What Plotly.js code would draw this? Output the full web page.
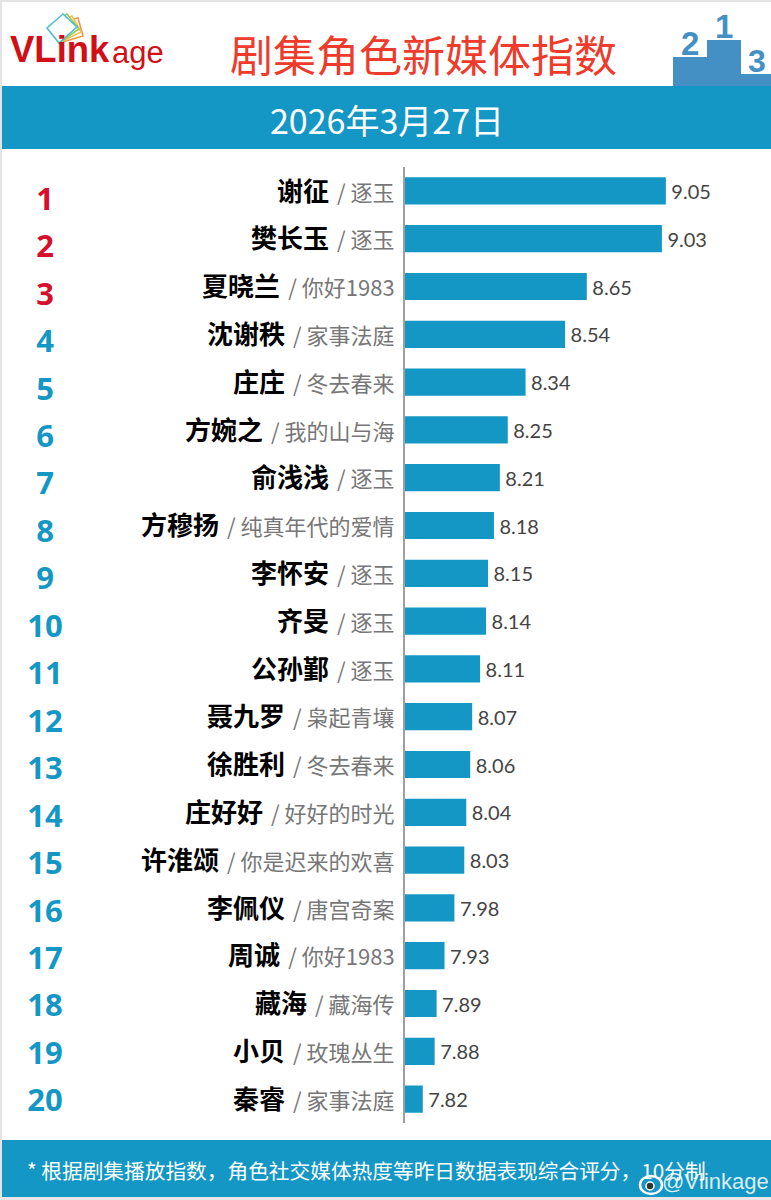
<!DOCTYPE html>
<html><head><meta charset="utf-8">
<script src="https://cdn.plot.ly/plotly-3.0.1.min.js"></script>
<style>html,body{margin:0;padding:0;background:#fff}</style></head>
<body><div id="chart" style="width:771px;height:1200px"></div>
<script>
const ranks=[1,2,3,4,5,6,7,8,9,10,11,12,13,14,15,16,17,18,19,20];
const roles=["谢征","樊长玉","夏晓兰","沈谢秩","庄庄","方婉之","俞浅浅","方穆扬","李怀安","齐旻","公孙鄞","聂九罗","徐胜利","庄好好","许淮颂","李佩仪","周诚","藏海","小贝","秦睿"];
const dramas=["逐玉","逐玉","你好1983","家事法庭","冬去春来","我的山与海","逐玉","纯真年代的爱情","逐玉","逐玉","逐玉","枭起青壤","冬去春来","好好的时光","你是迟来的欢喜","唐宫奇案","你好1983","藏海传","玫瑰丛生","家事法庭"];
const scores=[9.05,9.03,8.65,8.54,8.34,8.25,8.21,8.18,8.15,8.14,8.11,8.07,8.06,8.04,8.03,7.98,7.93,7.89,7.88,7.82];
const W=771,H=1200,CJK='"Noto Sans CJK SC","Noto Sans",sans-serif',BLUE='#1497c5',POD='#4490c4',LAT='"Liberation Sans",sans-serif';
const px=x=>x/W, py=y=>1-y/H;
const tick=roles.map((r,i)=>`<b style="font-size:26px;color:#000">${r}</b><span style="font-size:14px">\u00a0</span><span style="font-size:22px;color:#777"> / ${dramas[i]}</span>`);
const cats=roles.map((r,i)=>ranks[i]+r);
const rect=(x0,y0,x1,y1,c)=>({type:'rect',xref:'paper',yref:'paper',x0:px(x0),x1:px(x1),y0:py(y0),y1:py(y1),fillcolor:c,line:{width:0},layer:'below'});
const poly=(pts,c,f)=>({type:'path',xref:'paper',yref:'paper',path:'M'+pts.map(p=>px(p[0])+','+py(p[1])).join('L')+'Z',line:{color:c,width:1.6},fillcolor:f||'#ffffff',layer:'above'});
const oval=(x0,y0,x1,y1,c,f,w)=>({type:'circle',xref:'paper',yref:'paper',x0:px(x0),x1:px(x1),y0:py(y0),y1:py(y1),line:{color:c,width:w},fillcolor:f,layer:'above'});
const note=(t,x,y,size,color,extra)=>Object.assign({text:t,xref:'paper',yref:'paper',x:px(x),y:py(y),showarrow:false,xanchor:'center',yanchor:'middle',font:{family:CJK,size:size,color:color}},extra||{});
const latin=(t,x,y,size,color,anchor)=>note(t,x,y,size,color,{xanchor:anchor||'center',font:{family:LAT,size:size,color:color}});
const traces=[
 {type:'bar',orientation:'h',x:scores,y:cats,marker:{color:BLUE,line:{width:0}},width:0.57,
  text:scores.map(v=>'\u2009'+v.toFixed(2)),textposition:'outside',cliponaxis:false,textangle:0,
  textfont:{family:'Lato,sans-serif',size:20,color:'#444'},hoverinfo:'skip'},
 {type:'scatter',mode:'text',x:ranks.map(()=>45),y:ranks,xaxis:'x2',yaxis:'y2',text:ranks.map(String),
  textposition:'middle center',cliponaxis:false,
  textfont:{family:'"Open Sans",sans-serif',size:31,color:ranks.map(r=>r<=3?'#d5102c':BLUE),weight:700},hoverinfo:'skip'}
];
const layout={
 width:W,height:H,margin:{l:0,r:0,t:0,b:0},paper_bgcolor:'#fff',plot_bgcolor:'rgba(0,0,0,0)',showlegend:false,bargap:0.43,
 xaxis:{domain:[405/W,1],range:[7.73,9.582],showgrid:false,zeroline:false,showticklabels:false,ticks:'',fixedrange:true},
 yaxis:{domain:[py(1123),py(167)],type:'category',autorange:false,range:[19.5,-0.5],categoryorder:'array',categoryarray:cats,
   tickmode:'array',tickvals:cats,ticktext:tick,ticks:'',ticklabelstandoff:4,ticklabelshift:-2,tickfont:{family:CJK,size:22,color:'#777'},
   showgrid:false,zeroline:false,showline:true,linecolor:'#a0a0a0',linewidth:2},
 xaxis2:{domain:[0,0.12],range:[0,92.52],anchor:'y2',visible:false},
 yaxis2:{domain:[0,1],range:[22.03,-3.255],anchor:'x2',visible:false},
 shapes:[
  rect(0,86,771,149,BLUE),rect(0,1140,771,1197,BLUE),
  rect(0,0,771,2,'#e4e4e4'),rect(0,0,2,1200,'#e4e4e4'),rect(0,1197,771,1200,'#e8e8e8'),
  rect(673,57,707,86,POD),rect(707,40,741,86,POD),rect(741,74,771,86,POD),
  poly([[55,23],[78,18],[83,36],[59,43]],'#ee9a4a'),
  poly([[52,24],[72,16],[81,32],[59,43]],'#f2c14e'),
  poly([[49,26],[67,14],[79,29],[59,43]],'#9ccb5c'),
  poly([[47,28],[63,14],[77,27],[59,43]],'#4cc0cc'),
  oval(640,1176,662,1194,'#ffffff','rgba(0,0,0,0)',2.5),
  oval(646,1182,654,1190,'#ffffff','#333333',1.5)
 ],
 annotations:[
  latin('<b>VLink</b>',8,50,36.5,'#d10f17','left'),
  latin('age',110,52,31,'#d10f17','left'),
  note('剧集角色新媒体指数',423,53,43,'#ee3b2b'),
  note('2026年3月27日',387,119.5,34,'#ffffff'),
  note('* 根据剧集播放指数，角色社交媒体热度等昨日数据表现综合评分，10分制',25,1170,20.7,'#ffffff',{xanchor:'left'}),
  latin('@Vlinkage',771,1181,22,'rgba(255,255,255,0.85)','right'),
  latin('<b>1</b>',724,27,33,POD),
  latin('<b>2</b>',690,44,33,POD),
  latin('<b>3</b>',757,61,32,POD)
 ]
};
Plotly.newPlot('chart',traces,layout,{displayModeBar:false,staticPlot:true});
</script></body></html>
